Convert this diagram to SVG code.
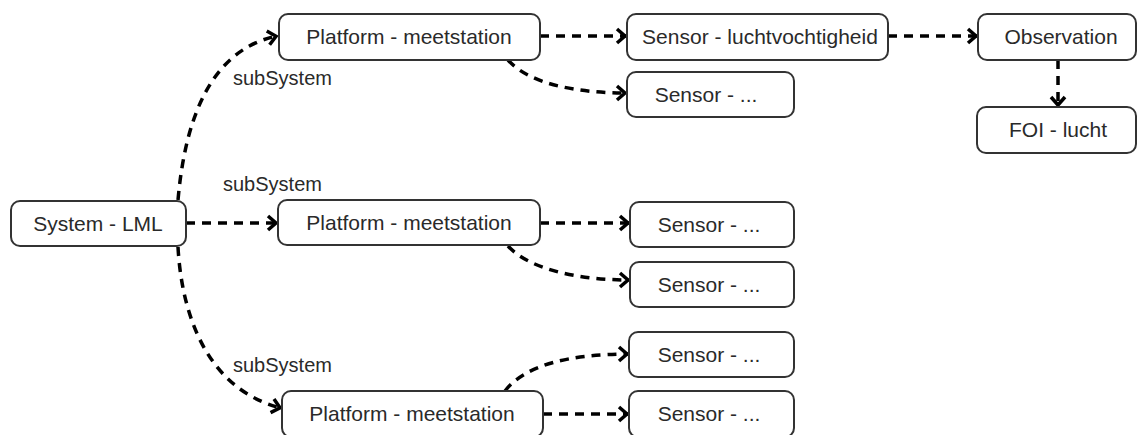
<svg xmlns="http://www.w3.org/2000/svg" width="1138" height="435" viewBox="0 0 1138 435">
<style>
.box{fill:#fff;stroke:#333;stroke-width:2}
.t{font-family:"Liberation Sans",Arial,sans-serif;font-size:21px;fill:#2a2a2a;text-anchor:middle}
.lbl{font-family:"Liberation Sans",Arial,sans-serif;font-size:20px;fill:#2a2a2a}
.c{fill:none;stroke:#000;stroke-width:3.5;stroke-dasharray:9 7;marker-end:url(#arr)}
</style>
<defs>
<marker id="arr" markerUnits="userSpaceOnUse" markerWidth="14" markerHeight="18" viewBox="0 0 14 18" refX="11" refY="9" orient="auto">
<path d="M2,2 L10,9 L2,16" fill="none" stroke="#000" stroke-width="3.5"/>
</marker>
</defs>
<rect width="1138" height="435" fill="#fff"/>
<g id="connectors">
<path class="c" d="M178 200 C185 120 210 50 277 36"/>
<path class="c" d="M186 223 H277"/>
<path class="c" d="M178 247 C182 320 210 390 281 408"/>
<path class="c" d="M540 36 H626"/>
<path class="c" d="M508 60 C530 85 580 93 626 93"/>
<path class="c" d="M888 36 H977"/>
<path class="c" d="M1058 60 V106"/>
<path class="c" d="M540 223 H629"/>
<path class="c" d="M508 246 C530 270 580 280 629 280"/>
<path class="c" d="M505 391 C525 365 570 354 628 354"/>
<path class="c" d="M543 414 H628"/>
</g>
<g id="labels">
<text class="lbl" x="233" y="85">subSystem</text>
<text class="lbl" x="223" y="191">subSystem</text>
<text class="lbl" x="233" y="372">subSystem</text>
</g>
<g id="system-lml"><rect class="box" x="11" y="201" width="175" height="45" rx="9"/><text class="t" x="98" y="231">System - LML</text></g>
<g id="platform-1"><rect class="box" x="279" y="14" width="261" height="46" rx="9"/><text class="t" x="409" y="44">Platform - meetstation</text></g>
<g id="platform-2"><rect class="box" x="278" y="200" width="262" height="45" rx="9"/><text class="t" x="409" y="230">Platform - meetstation</text></g>
<g id="platform-3"><rect class="box" x="282" y="391" width="261" height="46" rx="9"/><text class="t" x="412" y="421">Platform - meetstation</text></g>
<g id="sensor-lucht"><rect class="box" x="627" y="14" width="261" height="46" rx="9"/><text class="t" x="760" y="44">Sensor - luchtvochtigheid</text></g>
<g id="sensor-1b"><rect class="box" x="627" y="72" width="167" height="45" rx="9"/><text class="t" x="706" y="102">Sensor - ...</text></g>
<g id="observation"><rect class="box" x="978" y="14" width="158" height="46" rx="9"/><text class="t" x="1061" y="44">Observation</text></g>
<g id="foi-lucht"><rect class="box" x="977" y="107" width="159" height="46" rx="9"/><text class="t" x="1058" y="137">FOI - lucht</text></g>
<g id="sensor-2a"><rect class="box" x="630" y="202" width="164" height="45" rx="9"/><text class="t" x="709" y="232">Sensor - ...</text></g>
<g id="sensor-2b"><rect class="box" x="630" y="262" width="164" height="45" rx="9"/><text class="t" x="709" y="292">Sensor - ...</text></g>
<g id="sensor-3a"><rect class="box" x="629" y="332" width="165" height="45" rx="9"/><text class="t" x="709" y="362">Sensor - ...</text></g>
<g id="sensor-3b"><rect class="box" x="629" y="391" width="165" height="46" rx="9"/><text class="t" x="709" y="421">Sensor - ...</text></g>
</svg>
